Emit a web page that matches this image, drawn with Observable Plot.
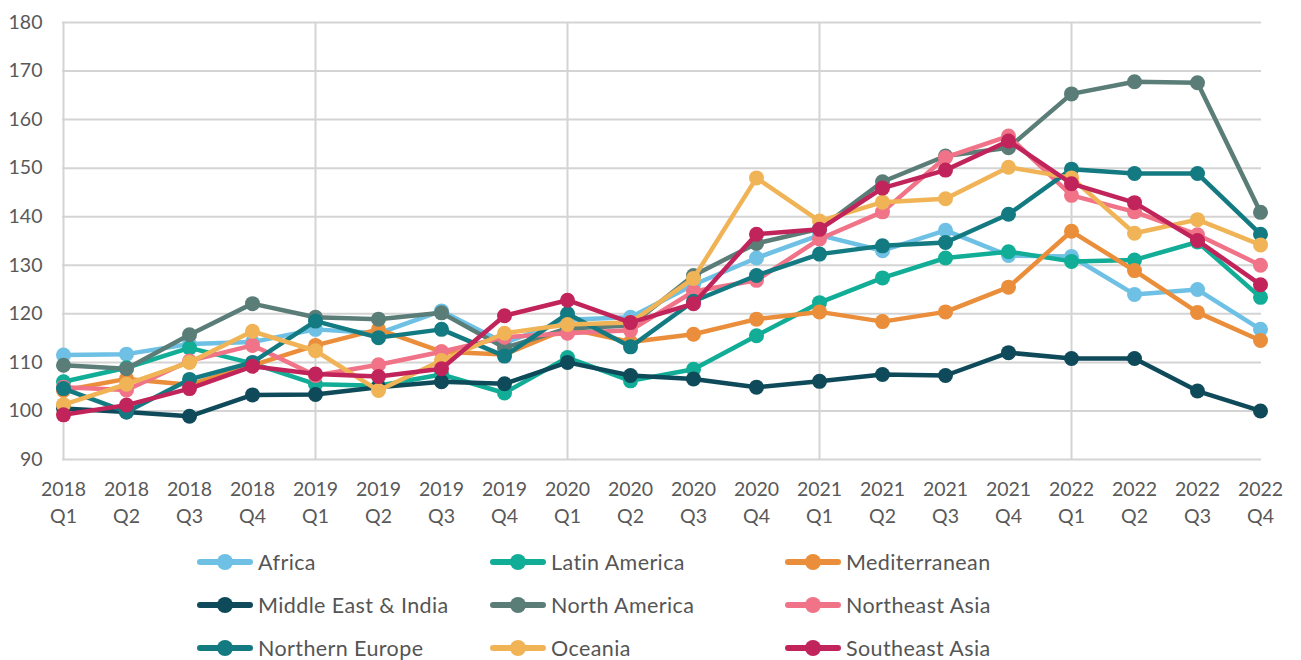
<!DOCTYPE html>
<html>
<head>
<meta charset="utf-8">
<script src="https://cdn.jsdelivr.net/npm/d3@7"></script>
<script src="https://cdn.jsdelivr.net/npm/@observablehq/plot@0.6"></script>
<style>
  html, body { margin: 0; padding: 0; background: #fff; }
  body { width: 1301px; height: 660px; overflow: hidden; font-family: Lato, "Open Sans", sans-serif; }
  #legend { position: relative; height: 130px; }
  .item { position: absolute; display: flex; align-items: center; font-size: 21.5px; color: #555; letter-spacing: 0.4px; }
  .item svg { margin-right: 5px; }
</style>
</head>
<body>
<div id="chart"></div>
<div id="legend"></div>
<script>
const quarters = ["2018 Q1","2018 Q2","2018 Q3","2018 Q4","2019 Q1","2019 Q2","2019 Q3","2019 Q4","2020 Q1","2020 Q2","2020 Q3","2020 Q4","2021 Q1","2021 Q2","2021 Q3","2021 Q4","2022 Q1","2022 Q2","2022 Q3","2022 Q4"];
const seriesNames = ["Africa","Latin America","Mediterranean","Middle East & India","North America","Northeast Asia","Northern Europe","Oceania","Southeast Asia"];
const seriesColors = ["#6EC1E4","#12AD96","#EB8E3B","#0F4A5A","#5A7D78","#F07388","#137A82","#F0B457","#C0245A"];
const yTicks = [90,100,110,120,130,140,150,160,170,180];

const africa        = [111.5,111.7,113.8,114.2,116.8,116.0,120.6,114.0,118.8,119.3,126.0,131.5,136.2,133.0,137.2,132.0,131.8,124.0,125.0,116.8];
const latinAmerica  = [106.0,108.9,113.0,109.8,105.5,105.2,107.5,103.7,111.0,106.2,108.6,115.5,122.3,127.4,131.5,132.8,130.8,131.1,134.8,123.4];
const mediterranean = [104.2,106.6,105.4,109.4,113.5,116.8,112.2,111.6,117.0,114.2,115.8,118.9,120.4,118.4,120.4,125.5,137.0,128.9,120.3,114.5];
const middleEast    = [100.5,99.8,98.9,103.3,103.4,104.9,106.0,105.6,110.0,107.3,106.6,104.9,106.1,107.5,107.3,112.0,110.8,110.8,104.1,100.0];
const northAmerica  = [109.4,108.7,115.7,122.1,119.3,118.9,120.2,113.0,117.0,117.6,127.9,134.5,137.5,147.2,152.5,154.2,165.3,167.8,167.6,140.9];
const northeastAsia = [104.9,104.3,110.3,113.5,107.3,109.5,112.2,115.2,116.0,116.6,124.6,126.9,135.4,141.0,152.2,156.6,144.4,141.0,136.3,130.0];
const northernEurope= [104.6,99.8,106.5,110.0,118.5,115.1,116.8,111.3,120.0,113.2,122.6,127.9,132.3,134.0,134.7,140.5,149.8,148.9,148.9,136.4];
const oceania       = [101.3,105.5,110.0,116.4,112.4,104.2,110.4,116.0,117.8,118.2,127.3,148.0,139.1,143.0,143.7,150.2,148.0,136.6,139.4,134.2];
const southeastAsia = [99.2,101.2,104.6,109.2,107.6,107.1,108.7,119.6,122.8,118.2,122.1,136.4,137.4,145.9,149.6,155.6,146.8,142.9,135.1,126.0];

const seriesValues = [africa, latinAmerica, mediterranean, middleEast, northAmerica, northeastAsia, northernEurope, oceania, southeastAsia];

const data = [];
seriesNames.forEach((s, i) => quarters.forEach((q, j) => data.push({series: s, quarter: q, value: seriesValues[i][j]})));

const marks = [
  Plot.ruleY(yTicks, {stroke: "#d4d4d4", strokeWidth: 2}),
  Plot.ruleX(quarters.filter(q => q.endsWith("Q1")), {stroke: "#d4d4d4", strokeWidth: 2}),
  Plot.axisY({ticks: yTicks, tickSize: 0, tickPadding: 20, fontSize: 19.5, fill: "#595959", label: null}),
  Plot.axisX({tickSize: 0, tickPadding: 18, fontSize: 19.5, fill: "#595959", label: null, lineHeight: 1.35,
    tickFormat: d => d.replace(" ", "\n")})
];
seriesNames.forEach((s) => {
  const sub = data.filter(d => d.series === s);
  marks.push(Plot.line(sub, {x: "quarter", y: "value", stroke: "series", strokeWidth: 4.5, strokeLinejoin: "round", strokeLinecap: "round"}));
  marks.push(Plot.dot(sub, {x: "quarter", y: "value", fill: "series", r: 7.5, stroke: null}));
});

const chart = Plot.plot({
  width: 1301,
  height: 530,
  marginLeft: 62,
  marginRight: 40,
  marginTop: 22,
  marginBottom: 71,
  style: {fontFamily: "Lato, 'Open Sans', sans-serif", background: "#fff"},
  x: {type: "point", domain: quarters, padding: 0},
  y: {domain: [90, 180]},
  color: {domain: seriesNames, range: seriesColors},
  marks
});
document.getElementById("chart").appendChild(chart);

const legend = document.getElementById("legend");
const colX = [197, 490, 785];
const rowY = [32, 75, 118];
seriesNames.forEach((s, i) => {
  const div = document.createElement("div");
  div.className = "item";
  div.style.left = colX[i % 3] + "px";
  div.style.top = (rowY[Math.floor(i / 3)] - 15) + "px";
  div.style.height = "30px";
  const c = seriesColors[i];
  div.innerHTML = `<svg width="56" height="20"><line x1="3" y1="10" x2="53" y2="10" stroke="${c}" stroke-width="6" stroke-linecap="round"/><circle cx="28" cy="10" r="8" fill="${c}"/></svg><span>${s}</span>`;
  legend.appendChild(div);
});
</script>
</body>
</html>
